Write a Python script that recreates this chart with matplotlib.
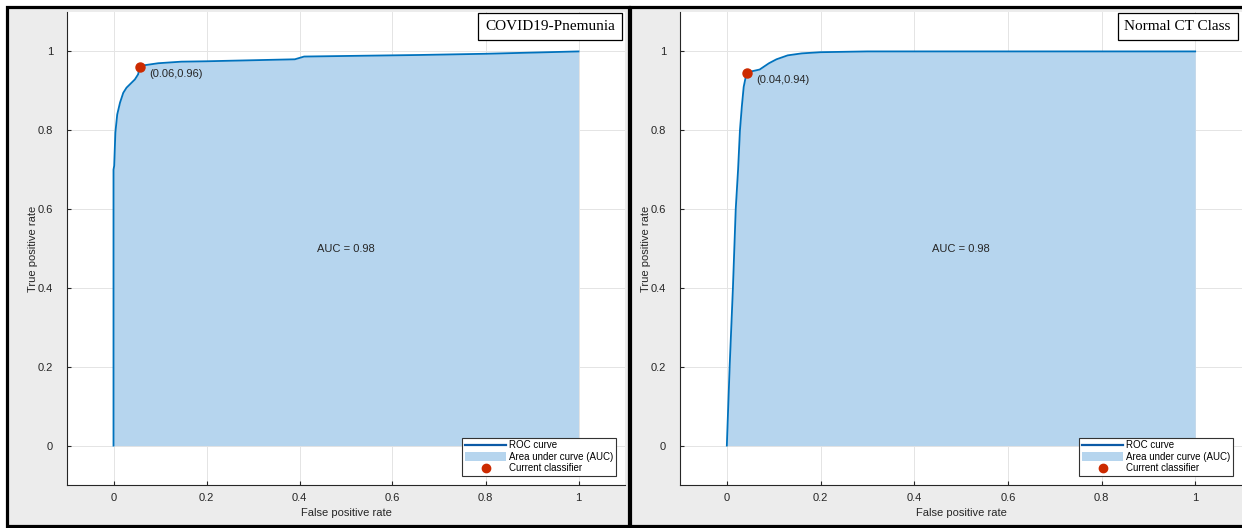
import matplotlib
matplotlib.use("Agg")
import matplotlib.pyplot as plt
from matplotlib.patches import Rectangle, Patch
from matplotlib.lines import Line2D

plt.rcParams["font.family"] = ["Liberation Sans", "DejaVu Sans"]

# ROC curve
covid_fpr = [0, 0, 0.0015, 0.004, 0.008, 0.014, 0.021, 0.028, 0.046, 0.053, 0.056,
             0.067, 0.096, 0.146, 0.2, 0.39, 0.41, 0.66, 0.8, 1.0]
covid_tpr = [0, 0.70, 0.71, 0.794, 0.84, 0.87, 0.895, 0.908, 0.929, 0.942, 0.96,
             0.965, 0.97, 0.974, 0.975, 0.98, 0.987, 0.991, 0.994, 1.0]
covid_point = (0.056, 0.96)

# ROC curve
normal_fpr = [0, 0.006, 0.013, 0.019, 0.024, 0.028, 0.032, 0.036, 0.042, 0.055,
              0.07, 0.09, 0.106, 0.13, 0.16, 0.2, 0.3, 1.0]
normal_tpr = [0, 0.2, 0.4, 0.6, 0.7, 0.8, 0.86, 0.91, 0.945, 0.95,
              0.954, 0.97, 0.98, 0.99, 0.995, 0.998, 1.0, 1.0]
normal_point = (0.042, 0.945)

titles = ["COVID19-Pnemunia", "Normal CT Class"]
title_x = [0.982, 0.98]
point_labels = ["(0.06,0.96)", "(0.04,0.94)"]
auc_labels = ["AUC = 0.98", "AUC = 0.98"]
ticks = [0, 0.2, 0.4, 0.6, 0.8, 1]
tick_labels = ["0", "0.2", "0.4", "0.6", "0.8", "1"]

W, H = 1242, 528
fig = plt.figure(figsize=(W / 100, H / 100), dpi=100)
fig.patch.set_facecolor("white")

# grey MATLAB-like panels with black frames
for x0, x1 in [(6.5, 629), (630, 1250)]:
    fig.patches.append(Rectangle((x0 / W, 1 - 525.5 / H), (x1 - x0) / W, 519 / H,
                                 transform=fig.transFigure, facecolor="#ececec",
                                 edgecolor="black", linewidth=2.3, zorder=-5))

ax_boxes = [(67, 625), (680, 1242)]
data = [(covid_fpr, covid_tpr, covid_point), (normal_fpr, normal_tpr, normal_point)]

line_c = "#0072bd"
fill_c = "#b6d5ee"
dot_c = "#cc2a00"
grey = "#262626"

for i, (ax_px, (fpr, tpr, pt)) in enumerate(zip(ax_boxes, data)):
    ax = fig.add_axes([ax_px[0] / W, (H - 485) / H, (ax_px[1] - ax_px[0]) / W, 473 / H])
    ax.set_facecolor("white")
    ax.set_axisbelow(True)
    ax.grid(True, color="#e4e4e4", linewidth=0.7)
    ax.fill_between(fpr, tpr, 0, color=fill_c, linewidth=0)
    ax.plot(fpr, tpr, color=line_c, linewidth=1.3)
    ax.plot(pt[0], pt[1], "o", color=dot_c, markersize=6.5)
    ax.annotate(point_labels[i], xy=pt, xytext=(7, -5), textcoords="offset points",
                fontsize=8, color=grey, va="center", ha="left")
    ax.text(0.5, 0.5, auc_labels[i], fontsize=8, color=grey, ha="center", va="center")
    ax.set_xlim(-0.1, 1.1)
    ax.set_ylim(-0.1, 1.1)
    ax.set_xticks(ticks, tick_labels)
    ax.set_yticks(ticks, tick_labels)
    ax.tick_params(direction="in", length=3, width=0.8, colors=grey, labelsize=8)
    ax.tick_params(axis="y", pad=10)
    ax.tick_params(axis="x", pad=6)
    for s in ["top", "right"]:
        ax.spines[s].set_visible(False)
    for s in ["left", "bottom"]:
        ax.spines[s].set_color(grey)
        ax.spines[s].set_linewidth(0.8)
    ax.set_xlabel("False positive rate", fontsize=8, color=grey, labelpad=3)
    ax.set_ylabel("True positive rate", fontsize=8, color=grey, labelpad=0)

    ax.text(title_x[i], 0.983, titles[i], transform=ax.transAxes, ha="right", va="top",
            fontsize=11, family="Liberation Serif",
            bbox=dict(boxstyle="square,pad=0.45", facecolor="white", edgecolor="black",
                      linewidth=0.9))

    handles = [Line2D([0], [0], color="#0b5aa6", linewidth=1.6),
               Patch(facecolor=fill_c, edgecolor="none"),
               Line2D([0], [0], marker="o", color=dot_c, linestyle="none", markersize=6)]
    leg = ax.legend(handles, ["ROC curve", "Area under curve (AUC)", "Current classifier"],
                    loc="lower right", fontsize=7, frameon=True, fancybox=False,
                    framealpha=1, edgecolor="#333333", borderpad=0.3, labelspacing=0.15,
                    handlelength=4.2, handleheight=0.9, handletextpad=0.3,
                    borderaxespad=0.9)
    leg.get_frame().set_linewidth(0.8)
    for t in leg.get_texts():
        t.set_color("black")

fig.savefig("out.png", dpi=100, facecolor=fig.get_facecolor())
